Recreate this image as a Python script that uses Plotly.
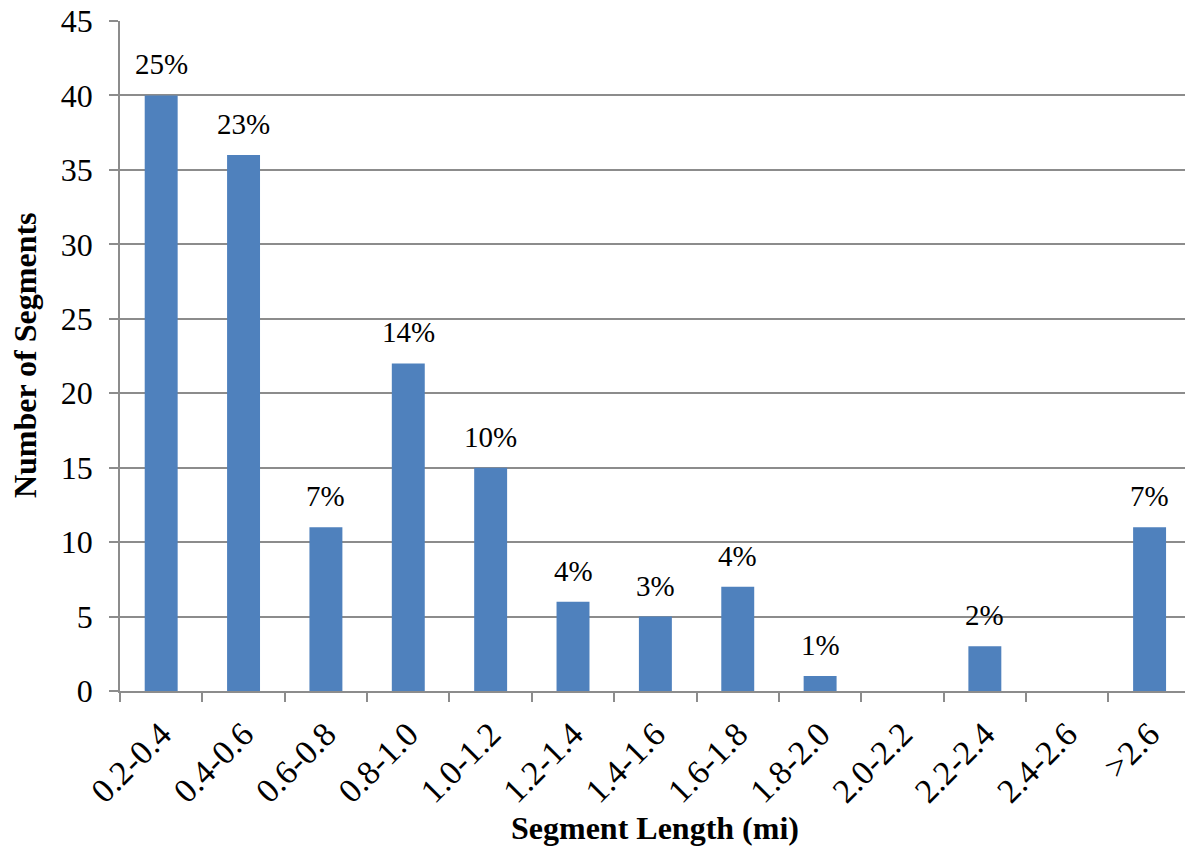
import plotly.graph_objects as go

categories = ["0.2-0.4", "0.4-0.6", "0.6-0.8", "0.8-1.0", "1.0-1.2", "1.2-1.4",
              "1.4-1.6", "1.6-1.8", "1.8-2.0", "2.0-2.2", "2.2-2.4", "2.4-2.6", ">2.6"]
counts = [40, 36, 11, 22, 15, 6, 5, 7, 1, 0, 3, 0, 11]
pct_labels = ["25%", "23%", "7%", "14%", "10%", "4%", "3%", "4%", "1%", "", "2%", "", "7%"]
y_ticks = [0, 5, 10, 15, 20, 25, 30, 35, 40, 45]

FONT = "Liberation Serif"
GRID = "#8c8c8c"

xs = list(range(len(categories)))

fig = go.Figure()
fig.add_trace(go.Bar(
    x=xs,
    y=counts,
    marker=dict(color="#4f81bd", line=dict(width=0)),
    width=0.4,
))

for xi, yi, lab in zip(xs, counts, pct_labels):
    if lab:
        fig.add_annotation(x=xi, y=yi, xref="x", yref="y", text=lab, showarrow=False,
                           xanchor="center", yanchor="bottom", yshift=13,
                           font=dict(family=FONT, size=29, color="black"))

fig.update_layout(
    width=1185, height=850,
    paper_bgcolor="white", plot_bgcolor="white",
    margin=dict(l=120, r=0, t=21, b=159, pad=0),
    showlegend=False,
    font=dict(family=FONT, color="black"),
)
fig.update_xaxes(
    tickmode="array",
    tickvals=xs,
    ticktext=categories,
    tickangle=-45,
    tickfont=dict(family=FONT, size=34, color="black"),
    ticklabelstandoff=8,
    ticklabeloverflow="allow",
    range=[-0.5, 12.43],
    showgrid=False,
    showline=True, linecolor=GRID, linewidth=1.5,
    ticks="",
    automargin=False,
    zeroline=False,
    minor=dict(tickmode="array", tickvals=[i - 0.5 for i in range(len(categories) + 1)],
               ticks="outside", ticklen=9, tickcolor=GRID, tickwidth=1.5, showgrid=False),
)
fig.update_yaxes(
    range=[0, 45],
    tickmode="array", tickvals=y_ticks,
    tickfont=dict(family=FONT, size=32, color="black"),
    ticklabelstandoff=10,
    ticklabeloverflow="allow",
    showgrid=True, gridcolor=GRID, gridwidth=1.5,
    showline=True, linecolor=GRID, linewidth=1.5,
    ticks="outside", ticklen=9, tickcolor=GRID, tickwidth=1.5,
    automargin=False,
    zeroline=False,
)
fig.add_annotation(text="<b>Segment Length (mi)</b>", xref="paper", yref="paper",
                   x=0.502, y=-0.2045, xanchor="center", yanchor="middle", showarrow=False,
                   font=dict(family=FONT, size=32, color="black"))
fig.add_annotation(text="<b>Number of Segments</b>", xref="paper", yref="paper",
                   x=-0.0885, y=0.501, xanchor="center", yanchor="middle", showarrow=False,
                   textangle=-90, font=dict(family=FONT, size=32, color="black"))

fig.write_html("out.html", config={"displayModeBar": False},
               post_script="document.body.style.margin='0';")
